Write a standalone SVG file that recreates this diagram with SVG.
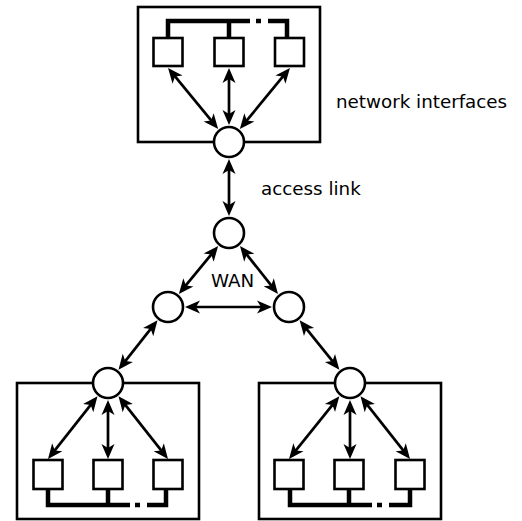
<svg xmlns="http://www.w3.org/2000/svg" width="522" height="521" viewBox="0 0 522 521">
<style>
.box{fill:none;stroke:#000;stroke-width:2.6}
.sq{fill:#fff;stroke:#000;stroke-width:2.6}
.node{fill:#fff;stroke:#000;stroke-width:2.6}
.bus{fill:none;stroke:#000;stroke-width:4.5;stroke-linejoin:miter;stroke-linecap:butt}
.link{fill:none;stroke:#000;stroke-width:2.7;marker-start:url(#ah);marker-end:url(#ah)}
.lbl{font-family:"DejaVu Sans",sans-serif;font-size:18.3px;fill:#000}
</style>
<defs>
<marker id="ah" markerUnits="userSpaceOnUse" orient="auto-start-reverse" refX="0" refY="0" markerWidth="20" markerHeight="20" viewBox="-6 -8 20 16" overflow="visible">
<path d="M-5,-6.5 L10,0 L-5,6.5 L-1,0 z" fill="#000"/>
</marker>
</defs>
<rect width="522" height="521" fill="#fff"/>
<g id="host-top">
<rect class="box" x="138" y="7" width="182" height="135"/>
<path class="bus" d="M168,37 V21 H250 M256,21 H261 M268,21 H287 V37 M229,21 V37"/>
<rect class="sq" x="153.5" y="38" width="29" height="28"/>
<rect class="sq" x="214.5" y="38" width="29" height="28"/>
<rect class="sq" x="275" y="38" width="29" height="28"/>
</g>
<g id="host-left">
<rect class="box" x="17" y="383" width="182" height="136"/>
<path class="bus" d="M48,490 V505 H130 M135,505 H140 M147,505 H166 V490 M108,490 V505"/>
<rect class="sq" x="33.5" y="460" width="29" height="29"/>
<rect class="sq" x="93.5" y="460" width="29" height="29"/>
<rect class="sq" x="153.5" y="460" width="29" height="29"/>
</g>
<g id="host-right">
<rect class="box" x="259" y="383" width="182" height="136"/>
<path class="bus" d="M290,490 V505 H372 M377,505 H382 M389,505 H410 V490 M349,490 V505"/>
<rect class="sq" x="274.5" y="460" width="29" height="29"/>
<rect class="sq" x="334.5" y="460" width="29" height="29"/>
<rect class="sq" x="395.5" y="460" width="29" height="29"/>
</g>
<g id="connectors">
<line class="link" x1="174.4" y1="75.7" x2="211.8" y2="121.2"/>
<line class="link" x1="229" y1="78" x2="229" y2="115"/>
<line class="link" x1="283.6" y1="75.7" x2="246.2" y2="121.2"/>
<line class="link" x1="229" y1="169" x2="229" y2="206"/>
<line class="link" x1="211.8" y1="253.8" x2="185.2" y2="286.2"/>
<line class="link" x1="246.2" y1="253.8" x2="271.8" y2="286.2"/>
<line class="link" x1="195" y1="307" x2="262" y2="307"/>
<line class="link" x1="151.3" y1="328.2" x2="124.7" y2="361.8"/>
<line class="link" x1="305.9" y1="328.1" x2="333.1" y2="361.9"/>
<line class="link" x1="91.3" y1="404.2" x2="54.2" y2="451.2"/>
<line class="link" x1="108" y1="410" x2="108" y2="449"/>
<line class="link" x1="124.7" y1="404.2" x2="161.8" y2="451.2"/>
<line class="link" x1="333.1" y1="404.1" x2="295.3" y2="451.2"/>
<line class="link" x1="350" y1="410" x2="350" y2="449"/>
<line class="link" x1="366.7" y1="404.2" x2="403.8" y2="451.2"/>
</g>
<g id="router-top"><circle class="node" cx="229" cy="142" r="15"/></g>
<g id="router-wan-top"><circle class="node" cx="229" cy="233" r="15"/></g>
<g id="router-wan-left"><circle class="node" cx="168" cy="307" r="15"/></g>
<g id="router-wan-right"><circle class="node" cx="289" cy="307" r="15"/></g>
<g id="router-left"><circle class="node" cx="108" cy="383" r="15"/></g>
<g id="router-right"><circle class="node" cx="350" cy="383" r="15"/></g>
<g id="labels">
<text class="lbl" x="336" y="108">network interfaces</text>
<text class="lbl" x="261" y="195">access link</text>
<text class="lbl" x="211" y="287">WAN</text>
</g>
</svg>
